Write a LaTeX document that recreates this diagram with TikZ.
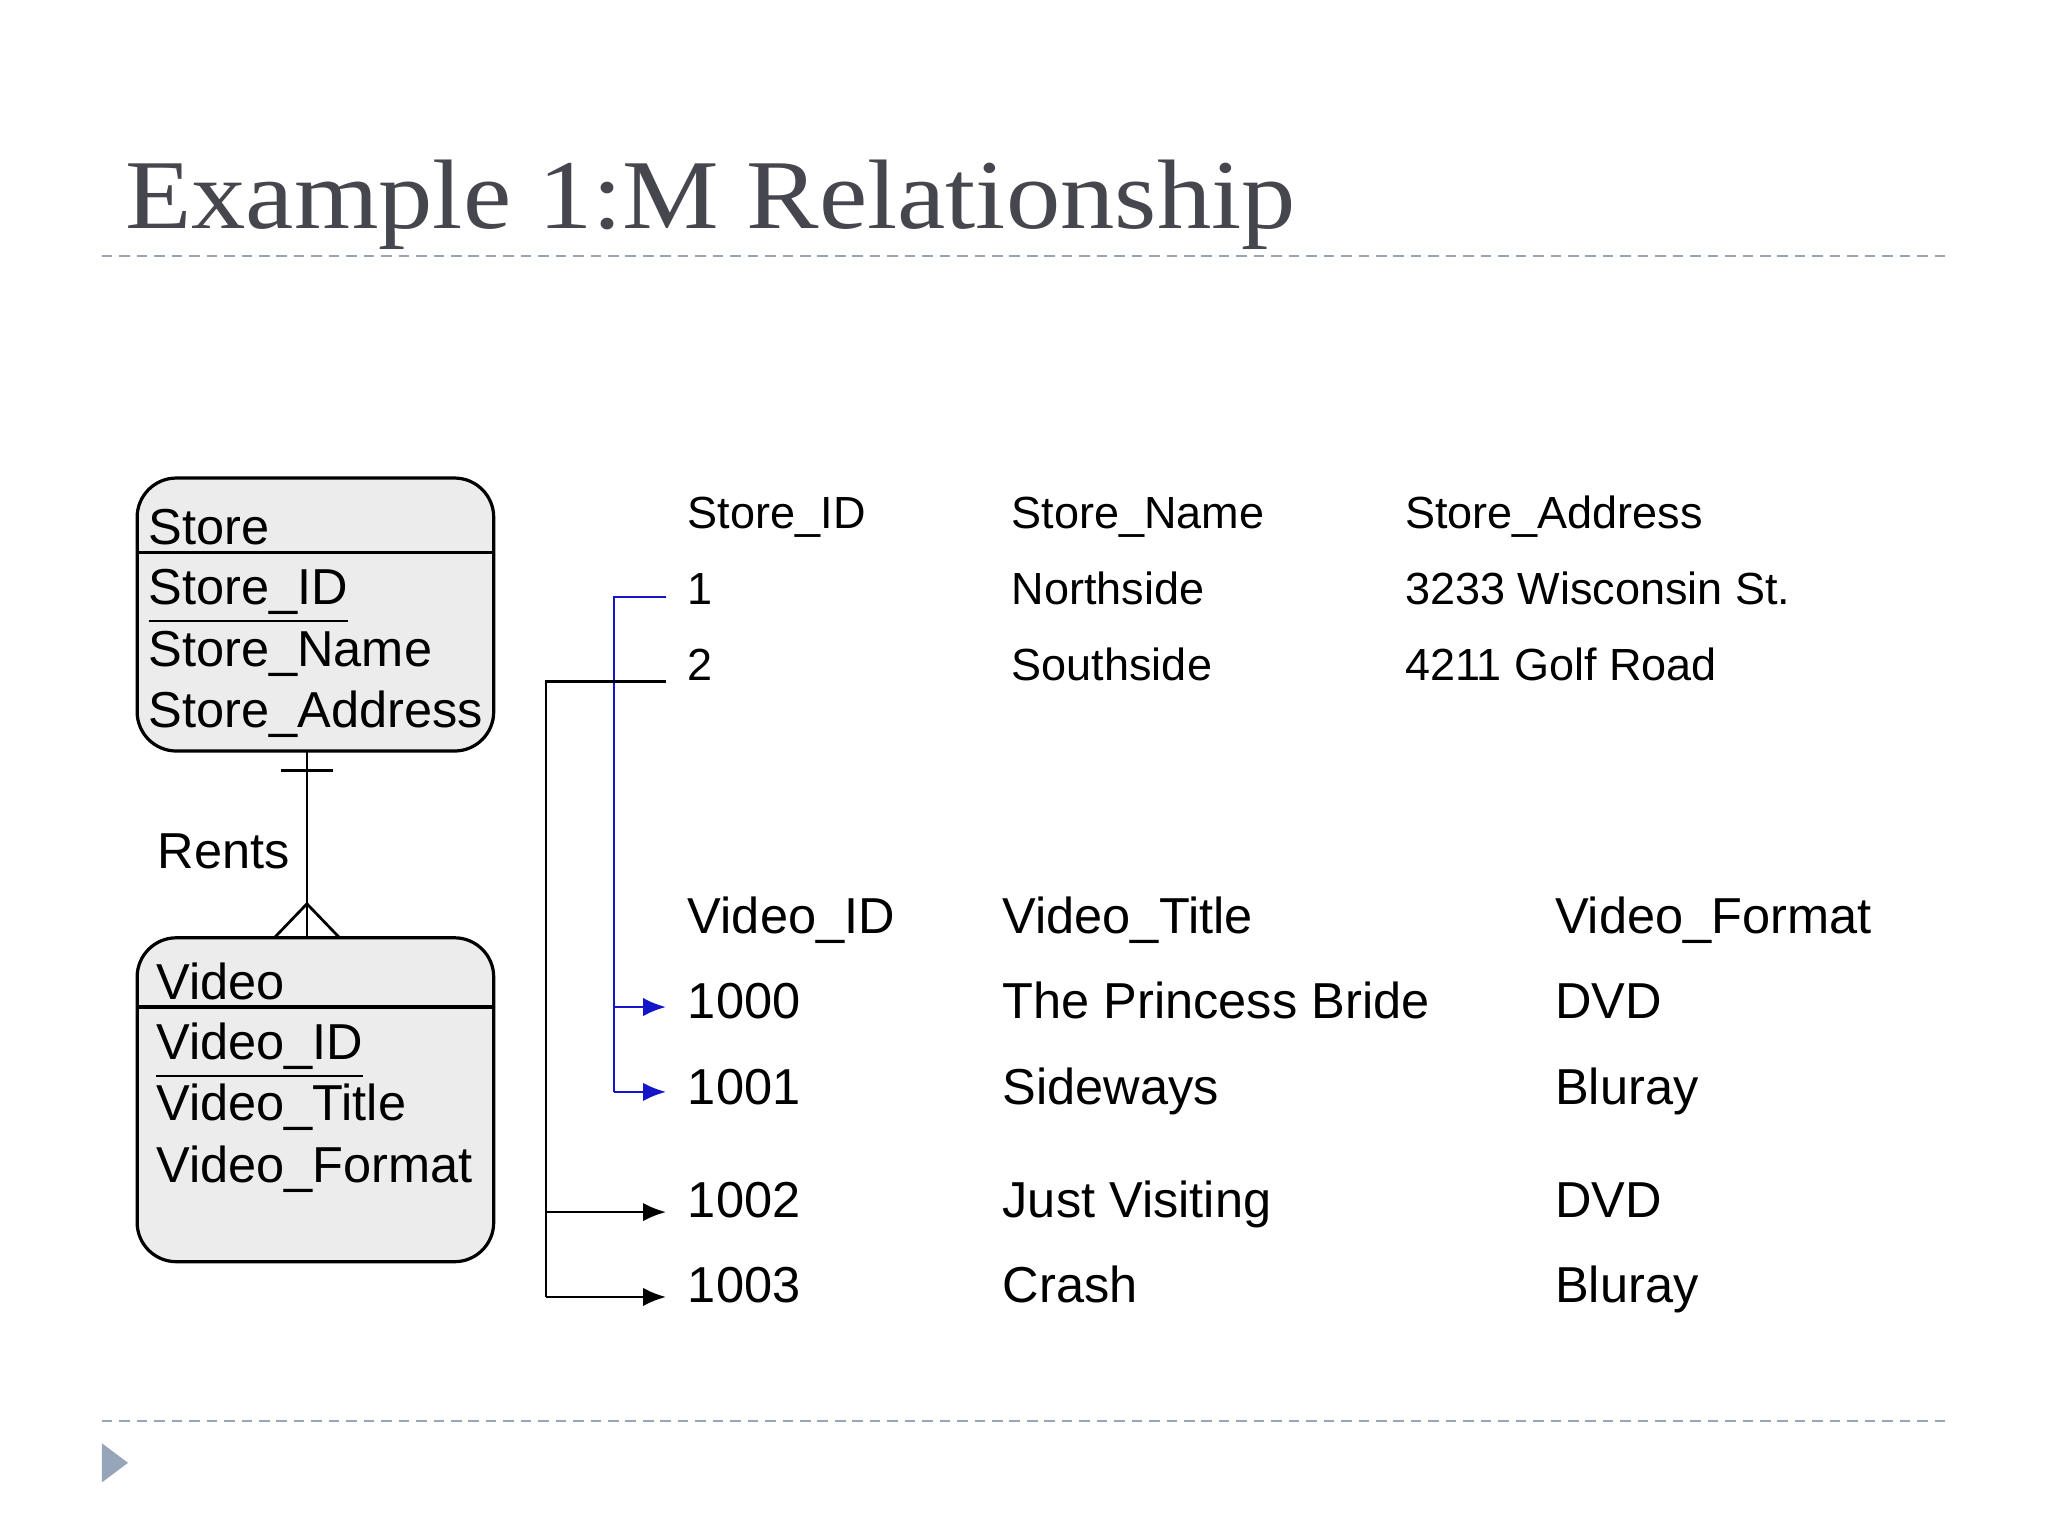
\documentclass[tikz,border=0pt]{standalone}
\usepackage{fontspec}
\setmainfont{Liberation Sans}
\newfontfamily\titlefont{Liberation Serif}
\usetikzlibrary{arrows.meta}
\definecolor{dashc}{RGB}{150,165,185}
\definecolor{boxfill}{RGB}{236,236,236}
\definecolor{titlec}{RGB}{70,70,78}
\definecolor{conblue}{RGB}{20,20,200}
\begin{document}
\begin{tikzpicture}[x=0.01cm,y=-0.01cm,
  txt/.style={anchor=base west,inner sep=0pt,font=\fontsize{11}{13}\selectfont},
  tsm/.style={anchor=base west,inner sep=0pt,font=\fontsize{9.8}{12}\selectfont},
  ent/.style={draw,fill=boxfill,rounded corners=0.3cm,line width=0.7pt},
  sep/.style={dashc,dash pattern=on 2.3pt off 1.5pt,line width=0.6pt},
  arr/.style={-{Latex[length=5pt,width=4pt]},line width=0.6pt}]
\useasboundingbox (0,0) rectangle (1568,1176);
\node[anchor=base west,inner sep=0pt,text=titlec,xscale=1.1,font=\titlefont\fontsize{21.5}{26}\selectfont] (title) at (95,175) {Example 1:M Relationship};
\draw[sep] (78,196) -- (1490,196);
\draw[sep] (78,1088) -- (1490,1088);
\fill[dashc] (78,1105) -- (98,1120) -- (78,1135) -- cycle;
% entities
\draw[ent] (105,366) rectangle (378,575);
\draw[line width=0.7pt] (105,423) -- (378,423);
\node[txt] (s0) at (113,417) {Store};
\node[txt] (s1) at (113,463) {\underline{Store\_ID}};
\node[txt] (s2) at (113,510) {Store\_Name};
\node[txt] (s3) at (113,557) {Store\_Address};
\draw[ent] (105,718) rectangle (378,966);
\draw[line width=0.7pt] (105,771) -- (378,771);
\node[txt] (v0) at (119,765) {Video};
\node[txt] (v1) at (119,811) {\underline{Video\_ID}};
\node[txt] (v2) at (119,858) {Video\_Title};
\node[txt] (v3) at (119,905) {Video\_Format};
\coordinate (rt) at (235,575);
\coordinate (rb) at (235,718);
\draw[line width=0.6pt] (rt) -- (rb);
\draw[line width=0.6pt] (215,590) -- (255,590);
\draw[line width=0.6pt] (210,718) -- (235,692) -- (260,718);
\node[txt] (rents) at (120,665) {Rents};
% table 1
\node[tsm] at (526,405) {Store\_ID};
\node[tsm] at (774,405) {Store\_Name};
\node[tsm] at (1075,405) {Store\_Address};
\node[tsm] (r1) at (526,463) {1};
\node[tsm] at (774,463) {Northside};
\node[tsm] at (1075,463) {3233 Wisconsin St.};
\node[tsm] (r2) at (526,521) {2};
\node[tsm] at (774,521) {Southside};
\node[tsm] at (1075,521) {4211 Golf Road};
% table 2
\node[txt] at (526,715) {Video\_ID};
\node[txt] at (767,715) {Video\_Title};
\node[txt] at (1190,715) {Video\_Format};
\node[txt] (a) at (526,780) {1000};
\node[txt] at (767,780) {The Princess Bride};
\node[txt] at (1190,780) {DVD};
\node[txt] (b) at (526,846) {1001};
\node[txt] at (767,846) {Sideways};
\node[txt] at (1190,846) {Bluray};
\node[txt] (c) at (526,932) {1002};
\node[txt] at (767,932) {Just Visiting};
\node[txt] at (1190,932) {DVD};
\node[txt] (d) at (526,997) {1003};
\node[txt] at (767,997) {Crash};
\node[txt] at (1190,997) {Bluray};
% connectors
\coordinate (p1) at (510,457);
\coordinate (p2) at (510,522);
\coordinate (qa) at (510,771);
\coordinate (qb) at (510,836);
\coordinate (qc) at (510,928);
\coordinate (qd) at (510,993);
\draw[conblue,line width=0.6pt] (p1) -- (470,457) -- (470,836);
\draw[conblue,arr] (470,771) -- (qa);
\draw[conblue,arr] (470,836) -- (qb);
\draw[line width=0.6pt] (p2) -- (418,522) -- (418,993);
\draw[arr] (418,928) -- (qc);
\draw[arr] (418,993) -- (qd);
\end{tikzpicture}
\end{document}
